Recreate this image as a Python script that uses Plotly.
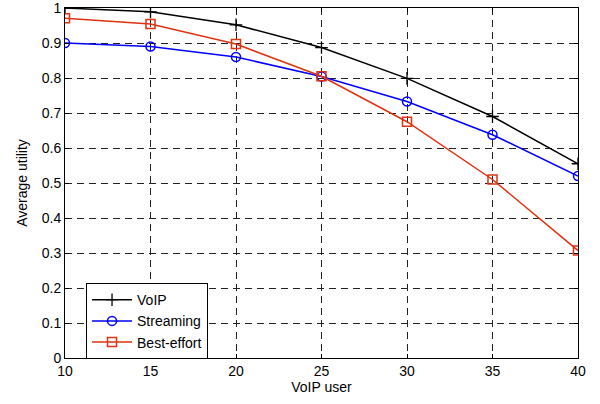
import plotly.graph_objects as go

users = [10, 15, 20, 25, 30, 35, 40]
voip = [1.0, 0.989, 0.952, 0.887, 0.799, 0.690, 0.555]
streaming = [0.900, 0.890, 0.860, 0.804, 0.733, 0.638, 0.520]
best_effort = [0.971, 0.954, 0.897, 0.805, 0.675, 0.510, 0.307]
y_ticks = [0, 0.1, 0.2, 0.3, 0.4, 0.5, 0.6, 0.7, 0.8, 0.9, 1]
y_ticktext = ["0", "0.1", "0.2", "0.3", "0.4", "0.5", "0.6", "0.7", "0.8", "0.9", "1"]
x_ticks = [10, 15, 20, 25, 30, 35, 40]

FONT = "Liberation Sans, Arial, Helvetica"

fig = go.Figure()
fig.add_trace(go.Scatter(x=users, y=voip, name="VoIP", mode="lines+markers",
                         line=dict(color="black", width=1.5),
                         marker=dict(symbol="cross-thin", size=9, line=dict(color="black", width=1.3))))
fig.add_trace(go.Scatter(x=users, y=streaming, name="Streaming", mode="lines+markers",
                         line=dict(color="#0000ff", width=1.5),
                         marker=dict(symbol="circle-open", size=9, color="#0000ff", line=dict(width=1.5))))
fig.add_trace(go.Scatter(x=users, y=best_effort, name="Best-effort", mode="lines+markers",
                         line=dict(color="#dd3311", width=1.5),
                         marker=dict(symbol="square-open", size=9, color="#dd3311", line=dict(width=1.5))))

axis_common = dict(showline=True, linecolor="black", linewidth=1, mirror="ticks",
                   ticks="inside", ticklen=4, tickcolor="black",
                   showgrid=True, gridcolor="#222222", gridwidth=1, griddash="7px,5px",
                   zeroline=False, automargin=False, ticklabeloverflow="allow",
                   tickfont=dict(family=FONT, size=14, color="black"))

fig.update_xaxes(range=[10, 40], tickvals=x_ticks,
                 title=dict(text="VoIP user", standoff=2, font=dict(family=FONT, size=14, color="black")),
                 **axis_common)
fig.update_yaxes(range=[0, 1], tickvals=y_ticks, ticktext=y_ticktext,
                 title=dict(text="Average utility", standoff=10, font=dict(family=FONT, size=14, color="black")),
                 **axis_common)

fig.update_layout(
    width=600, height=404,
    margin=dict(l=65, r=22, t=8, b=46),
    plot_bgcolor="white", paper_bgcolor="white",
    font=dict(family=FONT, size=14, color="black"),
    legend=dict(x=0.041, y=0.214, xanchor="left", yanchor="top",
                bgcolor="white", bordercolor="black", borderwidth=1,
                font=dict(family=FONT, size=14), tracegroupgap=0, itemwidth=40),
    showlegend=True,
)

fig.write_html("out.html", config={"displayModeBar": False},
               post_script="document.body.style.margin='0';document.body.style.overflow='hidden';")
